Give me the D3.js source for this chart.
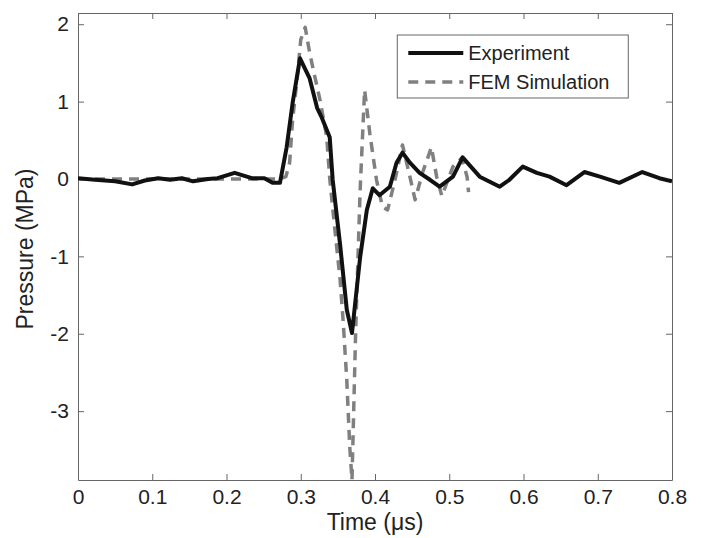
<!DOCTYPE html>
<html>
<head>
<meta charset="utf-8">
<script src="https://cdn.jsdelivr.net/npm/d3@7"></script>
<style>
  body { margin: 0; background: #fff; }
  text { font-family: "Liberation Sans", Arial, sans-serif; fill: #222; }
  .axis path, .axis line { stroke: #666; }
</style>
</head>
<body>
<div id="chart"></div>
<script>
// --- data (time in µs, pressure in MPa) ---
const expTime = [0.000, 0.023, 0.050, 0.073, 0.090, 0.108, 0.124, 0.140, 0.155, 0.175,
                 0.188, 0.211, 0.234, 0.251, 0.262, 0.272, 0.281, 0.289, 0.299, 0.312,
                 0.322, 0.328, 0.339, 0.343, 0.353, 0.362, 0.369, 0.380, 0.389, 0.397,
                 0.406, 0.420, 0.429, 0.437, 0.447, 0.460, 0.474, 0.487, 0.505, 0.518,
                 0.541, 0.568, 0.581, 0.599, 0.618, 0.635, 0.658, 0.682, 0.703, 0.729,
                 0.760, 0.783, 0.800];
const expPressure = [0.01, -0.01, -0.03, -0.07, -0.02, 0.01, -0.01, 0.01, -0.03, 0.00,
                     0.01, 0.08, 0.01, 0.01, -0.05, -0.05, 0.41, 0.98, 1.56, 1.30,
                     0.92, 0.80, 0.54, -0.01, -0.85, -1.69, -1.99, -1.01, -0.40, -0.12,
                     -0.21, -0.10, 0.21, 0.34, 0.21, 0.08, -0.01, -0.10, 0.03, 0.28,
                     0.03, -0.10, -0.01, 0.16, 0.08, 0.03, -0.08, 0.09, 0.03, -0.05,
                     0.09, 0.01, -0.03];

const femTime = [0.000, 0.272, 0.280, 0.285, 0.289, 0.295, 0.300, 0.306, 0.312, 0.319,
                 0.326, 0.335, 0.339, 0.346, 0.353, 0.357, 0.362, 0.366, 0.369, 0.374,
                 0.380, 0.386, 0.393, 0.402, 0.410, 0.417, 0.427, 0.437, 0.447, 0.454,
                 0.464, 0.476, 0.483, 0.490, 0.505, 0.517, 0.524, 0.526];
const femPressure = [0.00, 0.00, 0.03, 0.21, 0.76, 1.28, 1.80, 1.96, 1.63, 1.32,
                     1.02, 0.54, 0.01, -0.66, -1.30, -1.82, -2.60, -3.46, -3.89, -1.95,
                     -0.14, 1.15, 0.59, -0.01, -0.36, -0.40, -0.01, 0.44, 0.03, -0.27,
                     0.08, 0.41, 0.03, -0.22, 0.16, 0.27, 0.03, -0.17];

const xTicks = [0, 0.1, 0.2, 0.3, 0.4, 0.5, 0.6, 0.7, 0.8];
const yTicks = [-3, -2, -1, 0, 1, 2];

// --- sizing ---
const W = 701, H = 538;
const margin = { top: 13, right: 29, bottom: 58, left: 78 },
      width  = W - margin.left - margin.right,
      height = H - margin.top - margin.bottom;

const svg = d3.select("#chart")
  .append("svg")
  .attr("width", W)
  .attr("height", H)
  .append("g")
  .attr("transform", `translate(${margin.left},${margin.top})`);

const x = d3.scaleLinear().domain([0, 0.8]).range([0, width]);
const y = d3.scaleLinear().domain([-3.89, 2.145]).range([height, 0]);

// plain hyphen minus like MATLAB labels
const fmt = d => String(d);

// --- axes (MATLAB-style box, inward ticks) ---
const tickLen = 6;
svg.append("g")
  .attr("class", "axis")
  .attr("transform", `translate(0,${height})`)
  .call(d3.axisBottom(x).tickValues(xTicks).tickSizeInner(-tickLen).tickSizeOuter(0)
        .tickPadding(9).tickFormat(fmt))
  .call(g => g.selectAll("text").style("font-size", "21px"));

svg.append("g")
  .attr("class", "axis")
  .call(d3.axisTop(x).tickValues(xTicks).tickSizeInner(-tickLen).tickSizeOuter(0)
        .tickFormat(""));

svg.append("g")
  .attr("class", "axis")
  .call(d3.axisLeft(y).tickValues(yTicks).tickSizeInner(-tickLen).tickSizeOuter(0)
        .tickPadding(9).tickFormat(fmt))
  .call(g => g.selectAll("text").style("font-size", "21px"));

svg.append("g")
  .attr("class", "axis")
  .attr("transform", `translate(${width},0)`)
  .call(d3.axisRight(y).tickValues(yTicks).tickSizeInner(-tickLen).tickSizeOuter(0)
        .tickFormat(""));

// axis labels
svg.append("text")
  .attr("x", width / 2)
  .attr("y", height + 50)
  .attr("text-anchor", "middle")
  .style("font-size", "23px")
  .text("Time (μs)");

svg.append("text")
  .attr("transform", "rotate(-90)")
  .attr("x", -(y(0) + 70))
  .attr("y", -45)
  .attr("text-anchor", "middle")
  .style("font-size", "23px")
  .text("Pressure (MPa)");

// --- lines ---
svg.append("clipPath").attr("id", "plot-clip")
  .append("rect").attr("width", width).attr("height", height);

const series = [
  { name: "Experiment",     t: expTime, p: expPressure, color: "#111", width: 4,   dash: null },
  { name: "FEM Simulation", t: femTime, p: femPressure, color: "#808080", width: 3.5, dash: "10,7" }
];

const line = d3.line()
  .x(d => x(d[0]))
  .y(d => y(d[1]));

// draw FEM first so the experiment sits on top
[series[1], series[0]].forEach(s => {
  svg.append("path")
    .attr("clip-path", "url(#plot-clip)")
    .attr("fill", "none")
    .attr("stroke", s.color)
    .attr("stroke-width", s.width)
    .attr("stroke-dasharray", s.dash)
    .attr("stroke-linejoin", "round")
    .attr("d", line(s.t.map((t, i) => [t, s.p[i]])));
});

// --- legend ---
const lg = svg.append("g")
  .attr("transform", `translate(${x(0.43)},${22})`);

lg.append("rect")
  .attr("width", 231)
  .attr("height", 63)
  .attr("fill", "#fff")
  .attr("stroke", "#666");

series.forEach((s, i) => {
  const yy = 18 + i * 29;
  lg.append("line")
    .attr("x1", 11).attr("x2", 66)
    .attr("y1", yy).attr("y2", yy)
    .attr("stroke", s.color)
    .attr("stroke-width", s.width)
    .attr("stroke-dasharray", s.dash);
  lg.append("text")
    .attr("x", 71)
    .attr("y", yy + 7)
    .style("font-size", "20px")
    .text(s.name);
});
</script>
</body>
</html>
